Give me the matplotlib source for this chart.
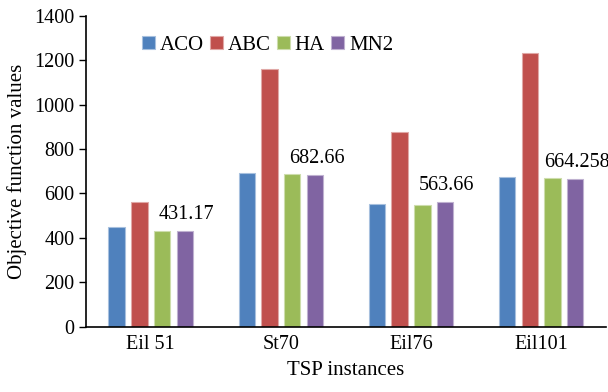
import matplotlib
matplotlib.use('Agg')
import matplotlib.pyplot as plt
import numpy as np

plt.rcParams['font.family'] = ['Liberation Serif', 'DejaVu Serif']

instances = ['Eil 51', 'St70', 'Eil76', 'Eil101']
algorithms = ['ACO', 'ABC', 'HA', 'MN2']
aco = [447, 692, 551, 674]
abc = [560, 1161, 876, 1235]
ha = [432, 686, 548, 669]
mn2 = [431.17, 682.66, 563.66, 664.258]
mn2_labels = ['431.17', '682.66', '563.66', '664.258']

colors = ['#4F81BD', '#C0504D', '#9BBB59', '#8064A2']
edges = ['#A7C0DE', '#E0A8A6', '#CDDDAC', '#BFB1D0']

fig = plt.figure(figsize=(6.08, 3.92), dpi=100)
ax = fig.add_axes([0.141, 0.167, 0.856, 0.792])

x = np.arange(len(instances))
pitch = 0.175
width = 0.125
for i, (vals, name) in enumerate(zip([aco, abc, ha, mn2], algorithms)):
    pos = x + (i - 1.5) * pitch
    ax.bar(pos, vals, width, color=colors[i], edgecolor=edges[i],
           linewidth=0.8, label=name)
    if name == 'MN2':
        for px, v, t in zip(pos, vals, mn2_labels):
            ax.annotate(t, (px, v), xytext=(1, 5), textcoords='offset points',
                        ha='center', va='bottom', fontsize=14.5)

ax.set_xlim(-0.5, len(instances) - 0.5)
ax.set_ylim(0, 1400)
ax.set_yticks(np.arange(0, 1401, 200))
ax.set_xticks(x)
ax.set_xticklabels(instances)
ax.tick_params(axis='x', length=0, labelsize=14.5, pad=6)
ax.tick_params(axis='y', direction='out', length=5, width=1, labelsize=14.5, pad=3)

for s in ['top', 'right']:
    ax.spines[s].set_visible(False)
for s in ['left', 'bottom']:
    ax.spines[s].set_linewidth(1.2)

ax.set_ylabel('Objective function values', fontsize=15, labelpad=5)
ax.set_xlabel('TSP instances', fontsize=15, labelpad=5)

ax.legend(loc='upper left', bbox_to_anchor=(0.22, 0.93), bbox_transform=fig.transFigure,
          ncol=4, frameon=False, fontsize=15, handlelength=0.6, handleheight=0.6,
          handletextpad=0.25, columnspacing=0.3, borderaxespad=0)

fig.savefig('out.png', dpi=100)
